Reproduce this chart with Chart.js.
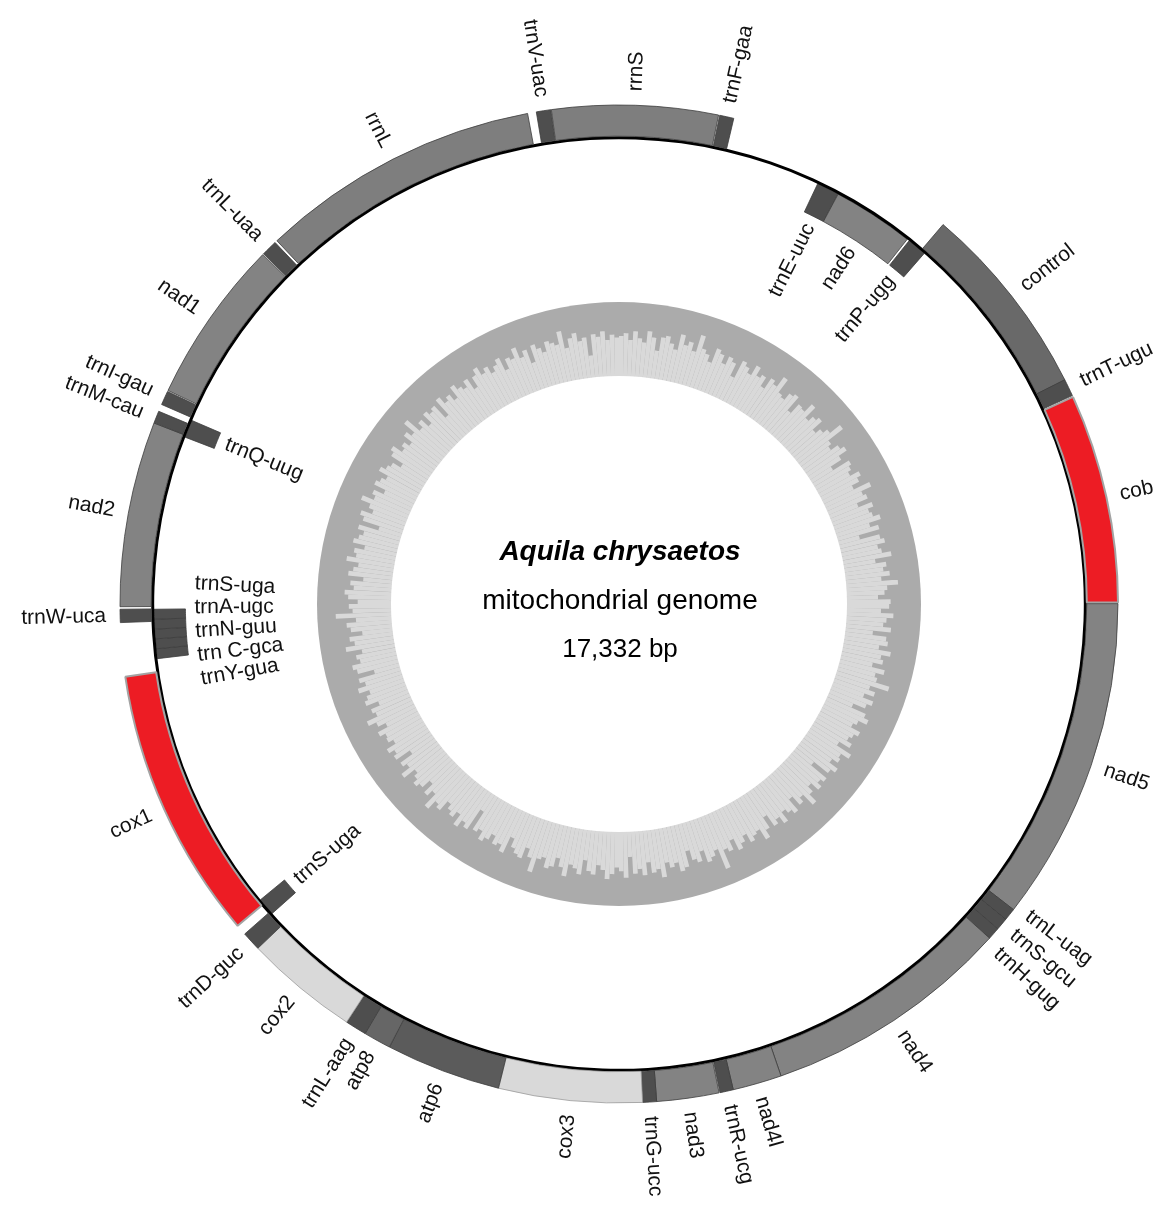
<!DOCTYPE html>
<html>
<head>
<meta charset="utf-8">
<title>Aquila chrysaetos mitochondrial genome</title>
<script src="https://cdn.jsdelivr.net/npm/chart.js@4.4.1/dist/chart.umd.min.js"></script>
<style>
    html, body { margin: 0; padding: 0; background: #fff; }
    #wrap { position: relative; width: 1168px; height: 1209px; }
    #wrap canvas { position: absolute; left: 0; top: 0; }
</style>
</head>
<body>
<div id="wrap">
    <canvas id="gcChart" width="1168" height="1209"></canvas>
    <canvas id="mapChart" width="1168" height="1209"></canvas>
</div>
<script>
// Genome size (bp)
const genomeLength = 17332;

// Gene map. Strand 'H' is drawn outside the circle, 'L' inside.
const geneNames = [
    'trnF-gaa', 'rrnS', 'trnV-uac', 'rrnL', 'trnL-uaa', 'nad1', 'trnI-gau', 'trnQ-uug', 'trnM-cau', 'nad2',
    'trnW-uca', 'trnS-uga', 'trnA-ugc', 'trnN-guu', 'trn C-gca', 'trnY-gua', 'cox1', 'trnS-uga', 'trnD-guc', 'cox2',
    'trnL-aag', 'atp8', 'atp6', 'cox3', 'trnG-ucc', 'nad3', 'trnR-ucg', 'nad4l', 'nad4', 'trnH-gug',
    'trnS-gcu', 'trnL-uag', 'nad5', 'cob', 'trnT-ugu', 'control', 'trnP-ugg', 'nad6', 'trnE-uuc'
];
const geneStart = [
    1, 87, 1020, 1150, 2740, 2835, 3762, 3856, 3882, 3952,
    5005, 5007, 5065, 5123, 5180, 5238, 5380, 6875, 6970, 7078,
    7718, 7838, 7992, 8638, 9441, 9518, 9872, 9946, 10221, 11617,
    11685, 11752, 11820, 13648, 14828, 14925, 15998, 16129, 16619
];
const geneEnd = [
    80, 1016, 1100, 2725, 2828, 3755, 3840, 3962, 3950, 4990,
    5078, 5065, 5123, 5180, 5238, 5296, 6909, 6981, 7076, 7716,
    7836, 7990, 8636, 9440, 9518, 9866, 9946, 10220, 11617, 11685,
    11752, 11820, 13640, 14819, 14924, 16022, 16114, 16619, 16754
];
const geneStrand = [
    'H', 'H', 'H', 'H', 'H', 'H', 'H', 'L', 'H', 'H',
    'H', 'L', 'L', 'L', 'L', 'L', 'H', 'L', 'H', 'H',
    'H', 'H', 'H', 'H', 'H', 'H', 'H', 'H', 'H', 'H',
    'H', 'H', 'H', 'H', 'H', 'H', 'L', 'L', 'L'
];
const geneGroup = [
    'trn', 'rrn', 'trn', 'rrn', 'trn', 'nad', 'trn', 'trn', 'trn', 'nad',
    'trn', 'trn', 'trn', 'trn', 'trn', 'trn', 'red', 'trn', 'trn', 'light',
    'trn', 'atp8', 'atp6', 'light', 'trn', 'nad', 'trn', 'nad', 'nad', 'trn',
    'trn', 'trn', 'nad', 'red', 'trn', 'ctrl', 'trn', 'nad', 'trn'
];

// AT content (%) per window, going round the genome
const atContent = [
    54, 58, 49, 61, 52, 47, 63, 55, 38, 57, 60, 51, 44, 66, 53, 59, 48, 72, 55, 50, 41, 62, 57, 46, 58, 53, 35, 61, 56, 49,
    64, 52, 57, 43, 60, 55, 71, 50, 47, 58, 62, 39, 55, 53, 67, 48, 56, 61, 44, 52, 59, 76, 51, 46, 57, 63, 50, 33, 58, 54,
    49, 62, 56, 45, 68, 53, 57, 41, 60, 52, 55, 64, 47, 58, 29, 56, 61, 50, 54, 66, 43, 57, 52, 60, 48, 70, 55, 51, 42, 59,
    57, 46, 63, 54, 50, 61, 37, 56, 59, 48, 65, 53, 57, 44, 62, 51, 55, 74, 49, 58, 45, 60, 53, 36, 57, 64, 52, 47, 61, 55,
    51, 59, 43, 66, 54, 57, 48, 62, 55, 31, 58, 53, 60, 47, 56, 69, 50, 57, 42, 61, 55, 49, 63, 52, 58, 40, 56, 67, 51, 54,
    60, 47, 55, 62, 45, 58, 53, 78, 49, 56, 61, 44, 57, 52, 38, 59, 63, 50, 55, 47, 66, 54, 58, 43, 60, 51, 57, 34, 62, 53,
    48, 57, 64, 52, 46, 59, 55, 41, 61, 54, 50, 67, 56, 45, 58, 62, 49, 53, 73, 55, 44, 60, 57, 51, 39, 63, 54, 58, 47, 56,
    62, 50, 55, 27, 59, 53, 64, 48, 57, 52, 45, 61, 56, 70, 49, 58, 42, 55, 60, 53, 47, 65, 51, 57, 37, 59, 54, 62, 48, 55,
    53, 61, 46, 57, 68, 52, 56, 43, 60, 55, 49, 63, 51, 58, 35, 57, 62, 50, 54, 45, 66, 53, 59, 41, 56, 61, 48, 75, 52, 57,
    45, 58, 63, 51, 56, 39, 60, 54, 48, 65, 53, 57, 44, 61, 55, 50, 59, 32, 56, 62, 47, 54, 68, 52, 57, 43, 60, 55, 49, 63,
    56, 52, 40, 59, 64, 50, 55, 47, 61, 53, 71, 49, 57, 44, 60, 54, 58, 36, 62, 51, 56, 46, 63, 55, 50, 59, 42, 57, 65, 53,
    59, 48, 55, 62, 43, 57, 53, 66, 50, 58, 38, 61, 54, 47, 60, 56, 52, 69, 45, 57, 63, 51, 55, 30, 58, 54, 61, 49, 56, 52
];

// Centre caption
const titleSpecies = 'Aquila chrysaetos';
const titleKind = 'mitochondrial genome';
const titleSize = '17,332 bp';

// Colours for each gene group
const groupColors = {
    trn: '#4e4e4e',
    rrn: '#7e7e7e',
    nad: '#838383',
    atp8: '#666666',
    atp6: '#5b5b5b',
    light: '#d9d9d9',
    red: '#ed1c24',
    ctrl: '#696969'
};
const groupBorders = {
    red: '#a3a3a3',
    light: '#9a9a9a'
};

const labelFont = '21px Arial, "Liberation Sans", sans-serif';
// Where the genome starts, degrees clockwise from 12 o'clock; genes run anticlockwise
const originAngle = 13.3;
// Fraction of the GC circle radius left white in the middle
const gcHoleFraction = 0.755;

// Turn one strand into doughnut segments (gaps are transparent)
function buildRing(strand) {
    const items = [];
    geneNames.forEach((name, i) => {
        if (geneStrand[i] !== strand) return;
        items.push({ gene: i, from: genomeLength - geneEnd[i], to: genomeLength - geneStart[i] + 1 });
    });
    items.sort((a, b) => a.from - b.from);

    const ring = { data: [], colors: [], borders: [], widths: [], gene: [] };
    const pushGap = (len) => {
        ring.data.push(len);
        ring.colors.push('rgba(0,0,0,0)');
        ring.borders.push('rgba(0,0,0,0)');
        ring.widths.push(0);
        ring.gene.push(-1);
    };
    let pos = 0;
    items.forEach(it => {
        if (it.from > pos) pushGap(it.from - pos);
        const group = geneGroup[it.gene];
        ring.data.push(it.to - it.from);
        ring.colors.push(groupColors[group]);
        ring.borders.push(groupBorders[group] || '#3d3d3d');
        ring.widths.push(group === 'red' ? 2 : 0.8);
        ring.gene.push(it.gene);
        pos = it.to;
    });
    if (pos < genomeLength) pushGap(genomeLength - pos);
    return ring;
}

const outerRing = buildRing('H');
const innerRing = buildRing('L');

// Push neighbouring labels apart so they do not overlap
function spreadAngles(items, minGap) {
    items.sort((a, b) => a.ang - b.ang);
    for (let n = 0; n < 100; n++) {
        for (let i = 1; i < items.length; i++) {
            const d = items[i].ang - items[i - 1].ang;
            if (d < minGap) {
                const push = (minGap - d) / 2;
                items[i].ang += push;
                items[i - 1].ang -= push;
            }
        }
    }
}

// Radial gene labels plus the caption in the middle
const geneLabelPlugin = {
    id: 'geneLabels',
    afterDatasetsDraw(chart) {
        const ctx = chart.ctx;
        const rings = [
            { meta: chart.getDatasetMeta(0), ring: outerRing, outside: true },
            { meta: chart.getDatasetMeta(2), ring: innerRing, outside: false }
        ];
        ctx.save();
        ctx.font = labelFont;
        ctx.fillStyle = '#111';
        ctx.textBaseline = 'middle';
        rings.forEach(({ meta, ring, outside }) => {
            const first = meta.data[0];
            const cx = first.x;
            const cy = first.y;
            const radius = outside ? first.outerRadius + 14 : first.innerRadius - 9;
            const items = [];
            ring.gene.forEach((g, k) => {
                if (g < 0) return;
                const arc = meta.data[k];
                items.push({ text: geneNames[g], ang: (arc.startAngle + arc.endAngle) / 2 });
            });
            spreadAngles(items, 24 / radius);
            items.forEach(it => {
                const a = it.ang;
                const right = Math.cos(a) >= 0;
                ctx.save();
                ctx.translate(cx + Math.cos(a) * radius, cy + Math.sin(a) * radius);
                ctx.rotate(right ? a : a + Math.PI);
                if (outside) {
                    ctx.textAlign = right ? 'left' : 'right';
                } else {
                    ctx.textAlign = right ? 'right' : 'left';
                }
                ctx.fillText(it.text, 0, 0);
                ctx.restore();
            });
        });

        // caption
        const c = chart.getDatasetMeta(0).data[0];
        ctx.textAlign = 'center';
        ctx.textBaseline = 'alphabetic';
        ctx.fillStyle = '#000';
        ctx.font = 'italic bold 28px Arial, "Liberation Sans", sans-serif';
        ctx.fillText(titleSpecies, c.x + 1, 560);
        ctx.font = '28px Arial, "Liberation Sans", sans-serif';
        ctx.fillText(titleKind, c.x + 1, 609);
        ctx.font = '26px Arial, "Liberation Sans", sans-serif';
        ctx.fillText(titleSize, c.x + 1, 657);
        ctx.restore();
    }
};

// Dark GC background and white hole for the AT content graph
const gcRingPlugin = {
    id: 'gcRing',
    beforeDatasetsDraw(chart) {
        const r = chart.scales.r;
        const ctx = chart.ctx;
        ctx.save();
        ctx.fillStyle = '#ababab';
        ctx.beginPath();
        ctx.arc(r.xCenter, r.yCenter, r.getDistanceFromCenterForValue(100), 0, Math.PI * 2);
        ctx.fill();
        ctx.restore();
    },
    afterDatasetsDraw(chart) {
        const r = chart.scales.r;
        const ctx = chart.ctx;
        ctx.save();
        ctx.fillStyle = '#ffffff';
        ctx.beginPath();
        ctx.arc(r.xCenter, r.yCenter, r.getDistanceFromCenterForValue(0), 0, Math.PI * 2);
        ctx.fill();
        ctx.restore();
    }
};

// AT content graph in the middle
new Chart(document.getElementById('gcChart'), {
    type: 'polarArea',
    data: {
        labels: atContent.map((v, i) => i + 1),
        datasets: [{
            data: atContent,
            backgroundColor: '#d9d9d9',
            borderWidth: 0
        }]
    },
    options: {
        responsive: false,
        animation: false,
        devicePixelRatio: 1,
        events: [],
        layout: { padding: { left: 317, right: 247, top: 302, bottom: 303 } },
        scales: {
            r: {
                display: false,
                min: -100 * gcHoleFraction / (1 - gcHoleFraction),
                max: 100
            }
        },
        plugins: {
            legend: { display: false },
            tooltip: { enabled: false }
        }
    },
    plugins: [gcRingPlugin]
});

// Gene map: outer strand, black genome circle, inner strand
new Chart(document.getElementById('mapChart'), {
    type: 'doughnut',
    data: {
        datasets: [
            {
                data: outerRing.data,
                backgroundColor: outerRing.colors,
                borderColor: outerRing.borders,
                borderWidth: outerRing.widths,
                hoverOffset: 0,
                offset: 0,
                weight: 31
            },
            {
                data: [genomeLength],
                backgroundColor: '#000000',
                borderWidth: 0,
                hoverOffset: 0,
                offset: 0,
                weight: 3
            },
            {
                data: innerRing.data,
                backgroundColor: innerRing.colors,
                borderColor: innerRing.borders,
                borderWidth: innerRing.widths,
                hoverOffset: 0,
                offset: 0,
                weight: 31
            }
        ]
    },
    options: {
        responsive: false,
        animation: false,
        devicePixelRatio: 1,
        events: [],
        rotation: originAngle,
        cutout: '86.9%',
        layout: { padding: { left: 119, right: 49, top: 104, bottom: 105 } },
        plugins: {
            legend: { display: false },
            tooltip: { enabled: false }
        }
    },
    plugins: [geneLabelPlugin]
});
</script>
</body>
</html>
